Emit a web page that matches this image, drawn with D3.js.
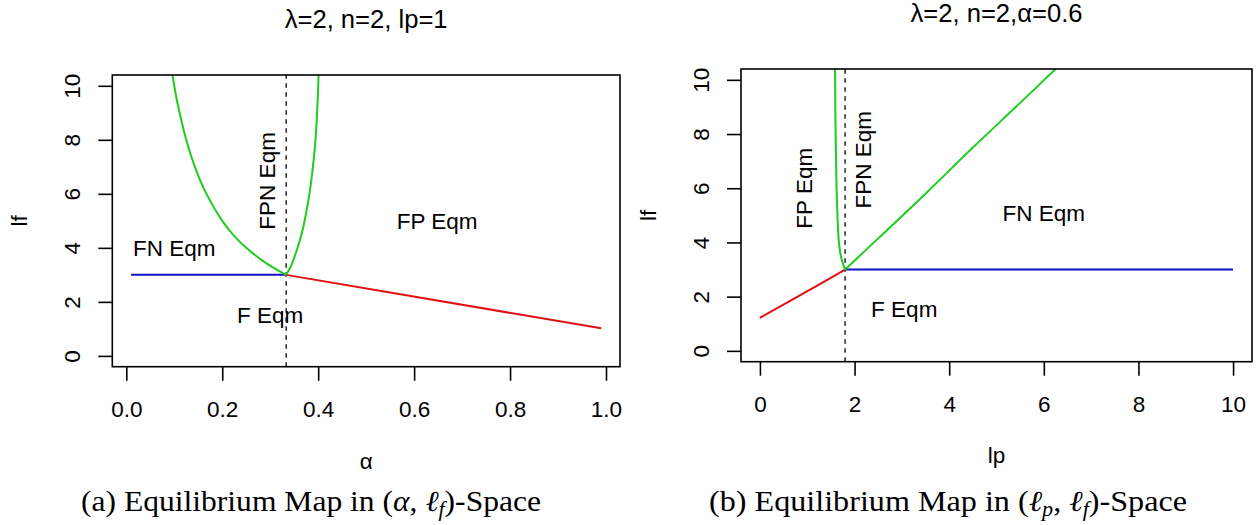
<!DOCTYPE html>
<html>
<head>
<meta charset="utf-8">
<script src="https://cdn.jsdelivr.net/npm/d3@7"></script>
<style>
  body { margin: 0; background: #fff; }
  text { font-family: "Liberation Sans", Arial, sans-serif; fill: #000; }
  .cap { font-family: "Liberation Serif", "Times New Roman", serif; }
</style>
</head>
<body>
<script>
// tick values
var alphaTicks = [0, 0.2, 0.4, 0.6, 0.8, 1.0];
var lpTicks = [0, 2, 4, 6, 8, 10];
var lfTicks = [0, 2, 4, 6, 8, 10];

// panel (a): lambda=2, n=2, lp=1  -> points are [alpha, lf]
var aBlue = [[0.01, 3.0], [0.3333, 3.0]];
var aRed = [[0.3333, 3.0], [0.99, 1.02]];
var aGreenLeft = [[0.0962, 10.4], [0.105, 9.5], [0.1125, 8.9], [0.125, 8.0], [0.143, 7.0],
  [0.167, 6.0], [0.2, 5.0], [0.222, 4.5], [0.25, 4.0], [0.286, 3.5], [0.3125, 3.2], [0.3333, 3.0]];
var aGreenRight = [[0.3333, 3.0], [0.345, 3.4], [0.356, 3.95], [0.366, 4.55], [0.375, 5.3],
  [0.383, 6.15], [0.389, 7.0], [0.394, 7.9], [0.3975, 8.9], [0.3995, 9.7], [0.4008, 10.4]];
var aDash = 0.3333;
var aLabels = [
  {t: "FN Eqm", x: 0.10, y: 4.0, rot: false},
  {t: "FPN Eqm", x: 0.2925, y: 6.48, rot: true},
  {t: "FP Eqm", x: 0.648, y: 5.0, rot: false},
  {t: "F Eqm", x: 0.30, y: 1.5, rot: false}
];

// panel (b): lambda=2, n=2, alpha=0.6  -> points are [lp, lf]
var bBlue = [[1.8, 3.0], [10.0, 3.0]];
var bRed = [[0.0, 1.22], [0.9, 2.1], [1.8, 3.0]];
var bGreenLeft = [[1.8, 3.0], [1.74, 3.3], [1.70, 3.6], [1.67, 4.0], [1.65, 4.5], [1.635, 5.2],
  [1.62, 6.0], [1.61, 7.0], [1.60, 8.0], [1.593, 9.0], [1.588, 10.4]];
var bGreenRight = [[1.8, 3.0], [2.5, 4.15], [3.5, 5.8], [4.5, 7.5], [5.5, 9.15], [6.25, 10.4]];
var bDash = 1.8;
var bLabels = [
  {t: "FP Eqm", x: 0.93, y: 6.0, rot: true},
  {t: "FPN Eqm", x: 2.17, y: 7.05, rot: true},
  {t: "FN Eqm", x: 6.0, y: 5.08, rot: false},
  {t: "F Eqm", x: 3.05, y: 1.55, rot: false}
];

var GREEN = "#1fcc1f", BLUE = "#1212c4", RED = "#e01010";
var FS = 22.5;

var svg = d3.select("body")
  .append("svg")
  .attr("width", 1257)
  .attr("height", 525);

var panels = [
  {
    left: 112.3, right: 620, top: 75, bottom: 366.7,
    xDom: [-0.0292, 1.0292], xTicks: alphaTicks, xFmt: d3.format(".1f"),
    title: "\u03bb=2, n=2, lp=1", xlab: "\u03b1", xlabY: 469,
    blue: aBlue, red: aRed, greens: [aGreenLeft, aGreenRight], dash: aDash, labels: aLabels
  },
  {
    left: 741, right: 1252, top: 69, bottom: 361.7,
    xDom: [-0.4, 10.4], xTicks: lpTicks, xFmt: d3.format("d"),
    title: "\u03bb=2, n=2,\u03b1=0.6", xlab: "lp", xlabY: 463,
    blue: bBlue, red: bRed, greens: [bGreenLeft, bGreenRight], dash: bDash, labels: bLabels
  }
];

panels.forEach(drawPanel);

function drawPanel(p) {
  var x = d3.scaleLinear().domain(p.xDom).range([p.left, p.right]);
  var y = d3.scaleLinear().domain([-0.4, 10.4]).range([p.bottom, p.top]);
  var g = svg.append("g");

  var line = d3.line()
    .x(function(d){ return x(d[0]); })
    .y(function(d){ return y(d[1]); })
    .curve(d3.curveCatmullRom);

  // dashed boundary
  g.append("line")
    .attr("x1", x(p.dash)).attr("x2", x(p.dash))
    .attr("y1", p.bottom).attr("y2", p.top)
    .attr("stroke", "#222").attr("stroke-width", 1.5)
    .attr("stroke-dasharray", "4.5,4.5");

  g.append("path").datum(p.blue).attr("d", line)
    .attr("fill", "none").attr("stroke", BLUE).attr("stroke-width", 2);
  g.append("path").datum(p.red).attr("d", line)
    .attr("fill", "none").attr("stroke", RED).attr("stroke-width", 2);
  p.greens.forEach(function(s){
    g.append("path").datum(s).attr("d", line)
      .attr("fill", "none").attr("stroke", GREEN).attr("stroke-width", 2);
  });

  // box
  g.append("rect")
    .attr("x", p.left).attr("y", p.top)
    .attr("width", p.right - p.left).attr("height", p.bottom - p.top)
    .attr("fill", "none").attr("stroke", "#000").attr("stroke-width", 1.6);

  // x axis
  var xa = g.append("g")
    .attr("transform", "translate(0," + p.bottom + ")")
    .call(d3.axisBottom(x).tickValues(p.xTicks).tickSize(14).tickPadding(20).tickFormat(p.xFmt));
  xa.select(".domain").remove();
  xa.selectAll("line").attr("stroke", "#000").attr("stroke-width", 1.6);
  xa.selectAll("text").attr("font-size", FS).attr("font-family", null);

  // y axis, labels parallel to axis like R
  var ya = g.append("g")
    .attr("transform", "translate(" + p.left + ",0)")
    .call(d3.axisLeft(y).tickValues(lfTicks).tickSize(14).tickFormat(d3.format("d")));
  ya.select(".domain").remove();
  ya.selectAll("line").attr("stroke", "#000").attr("stroke-width", 1.6);
  ya.selectAll("text")
    .attr("x", null).attr("dy", "0.36em")
    .attr("text-anchor", "middle")
    .attr("transform", "translate(-40,0) rotate(-90)")
    .attr("font-size", FS).attr("font-family", null);

  // titles
  var cx = (p.left + p.right) / 2;
  g.append("text").attr("x", cx).attr("y", p.top - 47)
    .attr("text-anchor", "middle").attr("font-size", 25.6).text(p.title);
  g.append("text").attr("x", cx).attr("y", p.xlabY)
    .attr("text-anchor", "middle").attr("font-size", FS).text(p.xlab);
  var cy = (p.top + p.bottom) / 2;
  g.append("text")
    .attr("transform", "translate(" + (p.left - 93) + "," + cy + ") rotate(-90)")
    .attr("dy", "0.36em")
    .attr("text-anchor", "middle").attr("font-size", FS).text("lf");

  // region labels
  g.selectAll(".reg").data(p.labels).enter().append("text")
    .attr("class", "reg")
    .attr("text-anchor", "middle")
    .attr("dy", "0.36em")
    .attr("font-size", FS)
    .attr("transform", function(d){
      return "translate(" + x(d.x) + "," + y(d.y) + ")" + (d.rot ? " rotate(-90)" : "");
    })
    .text(function(d){ return d.t; });
}

// subfigure captions
function caption(cx, label, first, width) {
  var t = svg.append("text").attr("class", "cap")
    .attr("x", cx).attr("y", 511)
    .attr("text-anchor", "middle").attr("font-size", 29)
    .attr("textLength", width).attr("lengthAdjust", "spacingAndGlyphs");
  t.append("tspan").text("(" + label + ") Equilibrium Map in (");
  t.append("tspan").attr("font-style", "italic").text(first[0]);
  if (first[1]) {
    t.append("tspan").attr("font-style", "italic").attr("font-size", 20).attr("dy", 5).text(first[1]);
    t.append("tspan").attr("dy", -5).text(", ");
  } else {
    t.append("tspan").text(", ");
  }
  t.append("tspan").attr("font-style", "italic").text("\u2113");
  t.append("tspan").attr("font-style", "italic").attr("font-size", 20).attr("dy", 5).text("f");
  t.append("tspan").attr("dy", -5).text(")-Space");
}
caption(311, "a", ["\u03b1", null], 460);
caption(948, "b", ["\u2113", "p"], 478);
</script>
</body>
</html>
